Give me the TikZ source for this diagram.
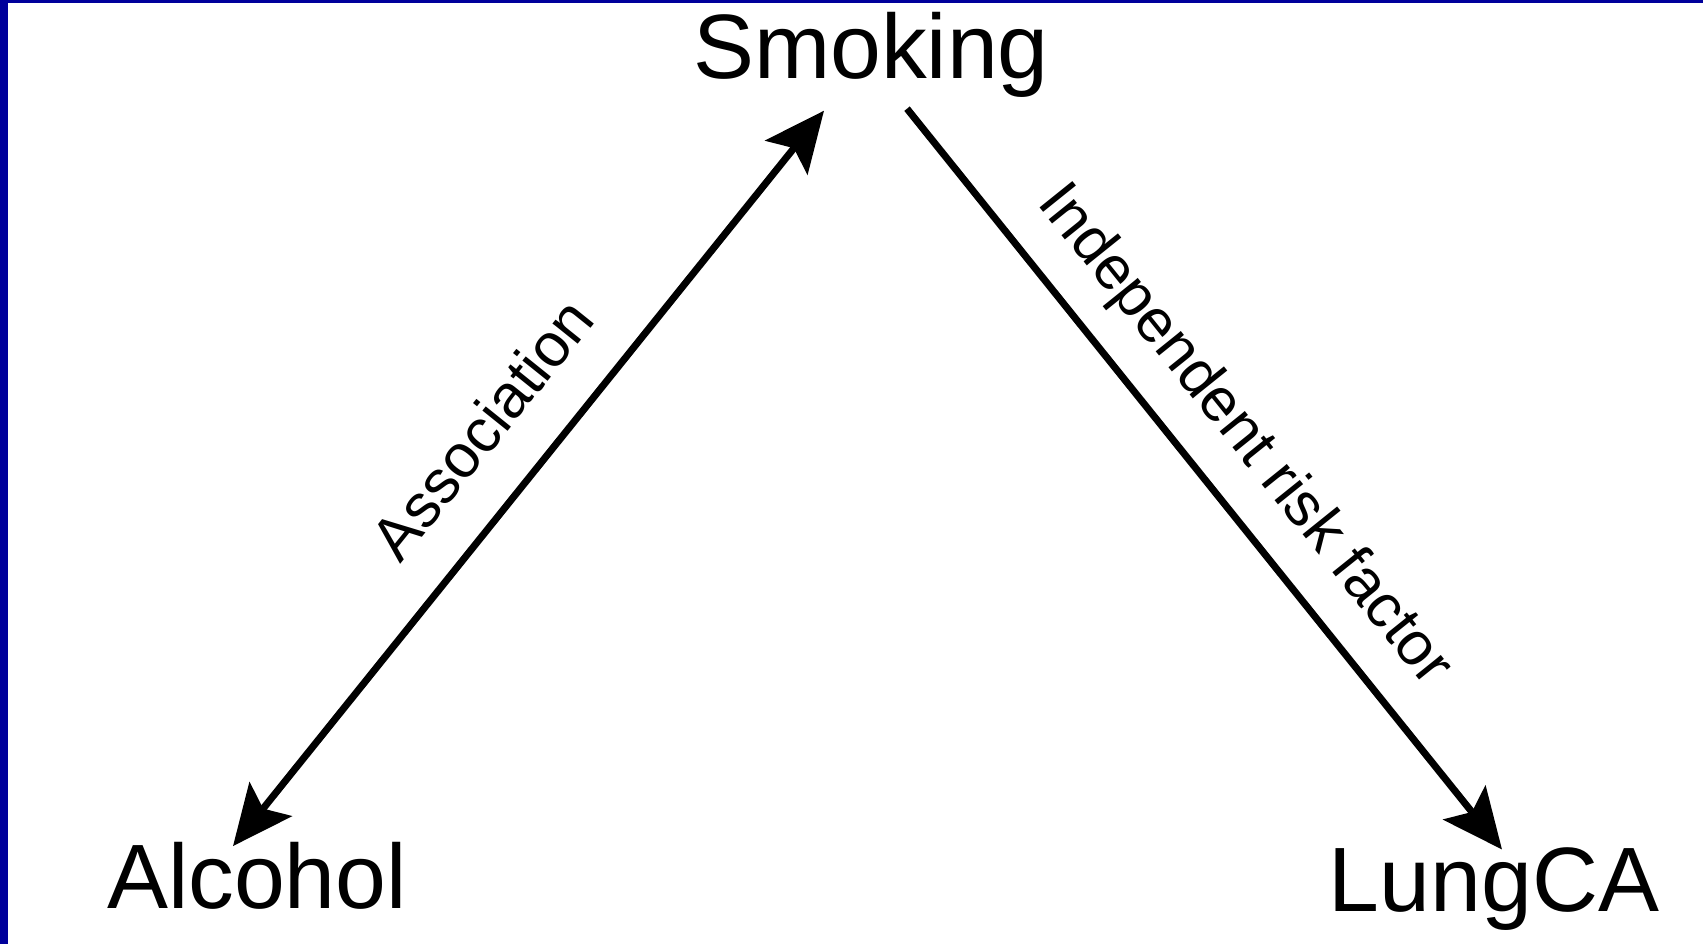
\documentclass[tikz,border=0pt]{standalone}
\usepackage{fontspec}
\setmainfont{Liberation Sans}
\usetikzlibrary{arrows.meta}
\definecolor{frameblue}{RGB}{0,0,155}
\begin{document}
\begin{tikzpicture}[x=0.01cm,y=-0.01cm,
  term/.style={inner sep=0pt, font=\fontsize{26pt}{30pt}\selectfont},
  lbl/.style={sloped, anchor=south, text depth=0pt, font=\fontsize{17.4pt}{21pt}\selectfont},
  conn/.style={line width=2pt}]
\useasboundingbox (0,0) rectangle (1703,944);
\fill[white] (0,0) rectangle (1703,944);
\fill[frameblue] (0,0) rectangle (8,944);
\fill[frameblue] (0,0) rectangle (1703,3);
\node[term, anchor=base] (smoking) at (871,78) {Smoking};
\node[term, anchor=base] (alcohol) at (257,908) {Alcohol};
\node[term, anchor=base] (lung) at (1494,911) {LungCA};
\draw[conn, {Stealth[length=6mm,width=5.4mm,inset=1.2mm]}-{Stealth[length=6mm,width=5.4mm,inset=1.2mm]}]
  ([shift={(-24,5)}]alcohol.north) -- node[lbl, inner sep=0.42cm, pos=0.51]{Association} ([shift={(-47,13)}]smoking.south);
\draw[conn, -{Stealth[length=6mm,width=5.4mm,inset=1.2mm]}]
  ([shift={(36,11)}]smoking.south) -- node[lbl, inner sep=0.38cm, pos=0.49]{Independent risk factor} ([shift={(8,3)}]lung.north);
\end{tikzpicture}
\end{document}
